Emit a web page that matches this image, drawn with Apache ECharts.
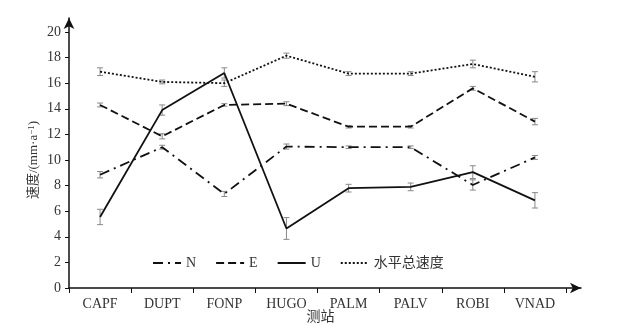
<!DOCTYPE html>
<html><head><meta charset="utf-8">
<script src="https://cdn.jsdelivr.net/npm/echarts@6/dist/echarts.min.js"></script>
<style>html,body{margin:0;padding:0;background:#fff}#c{width:624px;height:331px}</style>
</head><body><div id="c"></div>
<script>
const categories = ['CAPF','DUPT','FONP','HUGO','PALM','PALV','ROBI','VNAD'];
const yTicks = [0,2,4,6,8,10,12,14,16,18,20];
const seriesNames = ['N','E','U','水平总速度'];
const nVals = [8.85, 11.0, 7.35, 11.05, 11.0, 11.0, 8.05, 10.2];
const eVals = [14.3, 11.85, 14.3, 14.4, 12.6, 12.6, 15.6, 13.0];
const uVals = [5.55, 13.9, 16.8, 4.65, 7.8, 7.9, 9.05, 6.85];
const hVals = [16.9, 16.1, 16.0, 18.15, 16.75, 16.75, 17.5, 16.5];
const nErr = [0.25, 0.15, 0.2, 0.2, 0.1, 0.1, 0.4, 0.15];
const eErr = [0.15, 0.2, 0.1, 0.15, 0.1, 0.1, 0.15, 0.25];
const uErr = [0.6, 0.4, 0.4, 0.85, 0.3, 0.3, 0.5, 0.6];
const hErr = [0.3, 0.15, 0.25, 0.2, 0.15, 0.15, 0.3, 0.4];

const FONT = "'Liberation Serif', 'Noto Sans CJK SC', serif";
const TXT = '#333';

function errData(vals, errs){ return vals.map((v,i)=>[i, v-errs[i], v+errs[i]]); }
function errSeries(vals, errs){
  return {
    type:'custom', xAxisIndex:0, yAxisIndex:0, z:3, silent:true,
    data: errData(vals, errs),
    renderItem: function(params, api){
      const lo = api.coord([api.value(0), api.value(1)]);
      const hi = api.coord([api.value(0), api.value(2)]);
      const w = 3;
      const st = {stroke:'#888', lineWidth:1};
      return {type:'group', children:[
        {type:'line', shape:{x1:lo[0],y1:lo[1],x2:hi[0],y2:hi[1]}, style:st},
        {type:'line', shape:{x1:lo[0]-w,y1:lo[1],x2:lo[0]+w,y2:lo[1]}, style:st},
        {type:'line', shape:{x1:hi[0]-w,y1:hi[1],x2:hi[0]+w,y2:hi[1]}, style:st}
      ]};
    }
  };
}
function lineSeries(name, vals, type, width){
  return {name:name, type:'line', xAxisIndex:0, yAxisIndex:0, data:vals, symbol:'none', showSymbol:false, z:4,
    lineStyle:{color:'#111', width:width, type:type}, itemStyle:{color:'#111'}};
}

const chart = echarts.init(document.getElementById('c'), null, {renderer:'canvas'});
chart.setOption({
  backgroundColor:'#fff',
  animation:false,
  grid:[
    {left:69, right:58, top:32, bottom:43, outerBoundsMode:'none', containLabel:false},
    {left:69, right:43, top:18, bottom:43, outerBoundsMode:'none', containLabel:false}
  ],
  legend:{
    data:seriesNames, left:152, top:256, padding:0, itemWidth:28, itemHeight:10, itemGap:19,
    itemStyle:{opacity:0},
    textStyle:{fontFamily:FONT, fontSize:14, color:TXT}
  },
  xAxis:[
    {type:'category', gridIndex:0, data:categories, boundaryGap:true,
     axisLine:{show:false}, axisTick:{show:true, length:5, lineStyle:{color:'#111'}},
     axisLabel:{fontFamily:FONT, fontSize:14, color:TXT, margin:9},
     name:'测站', nameLocation:'middle', nameGap:22, nameMoveOverlap:false,
     nameTextStyle:{fontFamily:FONT, fontSize:14, color:TXT, padding:[0,0,0,6]}},
    {type:'value', gridIndex:1, min:0, max:1, axisLabel:{show:false}, axisTick:{show:false}, splitLine:{show:false},
     axisLine:{show:true, lineStyle:{color:'#111', width:1.5}, symbol:['none','arrow'], symbolSize:[8,11]}}
  ],
  yAxis:[
    {type:'value', gridIndex:0, min:0, max:20, interval:2,
     axisLine:{show:false}, splitLine:{show:false},
     axisTick:{show:true, length:4, lineStyle:{color:'#111'}},
     axisLabel:{fontFamily:FONT, fontSize:14, color:TXT, margin:8},
     name:'速度/(mm·a{sup|−1})', nameLocation:'middle', nameGap:28, nameRotate:90, nameMoveOverlap:false,
     nameTextStyle:{fontFamily:FONT, fontSize:13, color:TXT,
       rich:{sup:{fontFamily:FONT, fontSize:9, color:TXT, verticalAlign:'top', padding:[0,0,5,0]}}}},
    {type:'value', gridIndex:1, min:0, max:1, axisLabel:{show:false}, axisTick:{show:false}, splitLine:{show:false},
     axisLine:{show:true, lineStyle:{color:'#111', width:1.5}, symbol:['none','arrow'], symbolSize:[8,11]}}
  ],
  series:[
    errSeries(nVals, nErr), errSeries(eVals, eErr), errSeries(uVals, uErr), errSeries(hVals, hErr),
    lineSeries('N', nVals, [10,5,2,5], 1.8),
    lineSeries('E', eVals, [8,4], 1.8),
    lineSeries('U', uVals, 'solid', 1.8),
    lineSeries('水平总速度', hVals, [2,2], 1.8)
  ]
});
</script></body></html>
